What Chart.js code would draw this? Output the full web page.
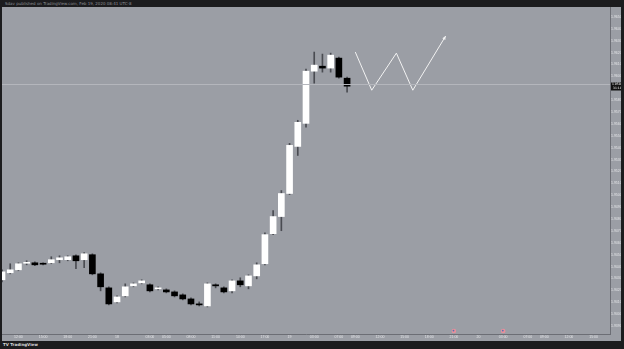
<!DOCTYPE html>
<html>
<head>
<meta charset="utf-8">
<script src="https://cdn.jsdelivr.net/npm/chart.js@4/dist/chart.umd.min.js"></script>
<style>
  html, body { margin: 0; padding: 0; background: #1c1c1e; width: 624px; height: 349px; overflow: hidden; font-family: "DejaVu Sans", sans-serif; }
  #head { position: absolute; left: 5px; top: 1px; font-size: 4px; color: #8d8f94; white-space: nowrap; }
  #foot { position: absolute; left: 3px; top: 342px; font-size: 4px; color: #d8d8d8; font-weight: bold; white-space: nowrap; }
  #wrap { position: absolute; left: 2px; top: 7px; width: 619px; height: 334px; background: #9b9ea5; }
</style>
</head>
<body>
<div id="head">Sdav published on TradingView.com, Feb 19, 2020 08:41 UTC-8</div>
<div id="wrap"><canvas id="c" width="619" height="334"></canvas></div>
<div id="foot">TV TradingView</div>
<script>
// hourly candles
const candleOpen  = [1.94289,1.94348,1.94373,1.94428,1.94432,1.94424,1.94432,1.94458,1.94458,1.94491,1.94458,1.94500,1.94339,1.94221,1.94103,1.94154,1.94238,1.94263,1.94247,1.94213,1.94204,1.94187,1.94162,1.94128,1.94086,1.94069,1.94247,1.94221,1.94196,1.94280,1.94238,1.94322,1.94424,1.94677,1.94821,1.95015,1.95411,1.95605,1.96044,1.96086,1.96070,1.96154,1.95985];
const candleHigh  = [1.94373,1.94424,1.94432,1.94449,1.94441,1.94432,1.94483,1.94491,1.94491,1.94500,1.94517,1.94508,1.94348,1.94230,1.94154,1.94255,1.94263,1.94289,1.94255,1.94230,1.94213,1.94196,1.94171,1.94137,1.94103,1.94263,1.94255,1.94230,1.94289,1.94306,1.94331,1.94432,1.94685,1.94871,1.95040,1.95437,1.95631,1.96061,1.96205,1.96188,1.96196,1.96162,1.95994];
const candleLow   = [1.94272,1.94339,1.94365,1.94415,1.94407,1.94415,1.94424,1.94432,1.94449,1.94382,1.94390,1.94331,1.94196,1.94078,1.94095,1.94145,1.94230,1.94255,1.94187,1.94204,1.94179,1.94145,1.94120,1.94078,1.94069,1.94061,1.94221,1.94179,1.94179,1.94230,1.94213,1.94297,1.94415,1.94669,1.94702,1.95006,1.95335,1.95572,1.95943,1.96036,1.96036,1.95985,1.95867];
const candleClose = [1.94356,1.94373,1.94424,1.94432,1.94415,1.94420,1.94458,1.94474,1.94483,1.94449,1.94508,1.94339,1.94230,1.94086,1.94145,1.94230,1.94255,1.94280,1.94196,1.94221,1.94187,1.94154,1.94128,1.94086,1.94078,1.94255,1.94238,1.94187,1.94280,1.94247,1.94322,1.94415,1.94669,1.94821,1.95015,1.95420,1.95614,1.96044,1.96095,1.96070,1.96179,1.95994,1.95918];

// projected zigzag drawing
const pathIndex = [43, 45, 48, 50, 54];
const pathPrice = [1.96205, 1.95884, 1.96196, 1.95884, 1.96340];

const lastPrice = 1.95939;
const eventIndex = [55, 61];

const slotCount = 75;
const timeTicks = {2:'12:00',5:'15:00',8:'18:00',11:'21:00',14:'18',18:'03:00',20:'05:00',23:'08:00',26:'11:00',29:'14:00',32:'17:00',35:'19',38:'03:00',41:'07:00',43:'09:00',46:'12:00',49:'15:00',52:'18:00',55:'21:00',58:'20',61:'03:00',64:'07:00',66:'09:00',69:'12:00',72:'15:00'};

const labels = Array.from({length: slotCount}, (_, i) => String(i));
const bodies = candleOpen.map((o, i) => [Math.min(o, candleClose[i]), Math.max(o, candleClose[i])]);
const wicks = candleLow.map((l, i) => [l, candleHigh[i]]);
const bodyColor = candleOpen.map((o, i) => candleClose[i] >= o ? '#ffffff' : '#000000');
const pathData = new Array(slotCount).fill(null);
pathIndex.forEach((x, i) => { pathData[x] = pathPrice[i]; });

const overlay = {
  id: 'overlay',
  afterDatasetsDraw(chart) {
    const { ctx, chartArea: a, scales: { x, y } } = chart;
    ctx.save();
    // last price line
    const py = Math.round(y.getPixelForValue(lastPrice)) + 0.5;
    ctx.strokeStyle = '#b4b6bc';
    ctx.lineWidth = 1;
    ctx.beginPath(); ctx.moveTo(a.left, py); ctx.lineTo(a.right, py); ctx.stroke();
    // arrowhead on zigzag
    const n = pathIndex.length;
    const x1 = x.getPixelForValue(pathIndex[n - 2]), y1 = y.getPixelForValue(pathPrice[n - 2]);
    const x2 = x.getPixelForValue(pathIndex[n - 1]), y2 = y.getPixelForValue(pathPrice[n - 1]);
    const ang = Math.atan2(y2 - y1, x2 - x1);
    ctx.fillStyle = '#f2f2f2';
    ctx.beginPath();
    ctx.moveTo(x2, y2);
    ctx.lineTo(x2 - 4 * Math.cos(ang - 0.45), y2 - 4 * Math.sin(ang - 0.45));
    ctx.lineTo(x2 - 4 * Math.cos(ang + 0.45), y2 - 4 * Math.sin(ang + 0.45));
    ctx.closePath(); ctx.fill();
    // calendar events
    eventIndex.forEach(i => {
      const ex = x.getPixelForValue(i);
      ctx.fillStyle = '#e8909c';
      ctx.beginPath(); ctx.arc(ex, a.bottom - 3, 2.3, 0, Math.PI * 2); ctx.fill();
      ctx.fillStyle = '#5a6fb0';
      ctx.beginPath(); ctx.arc(ex - 0.4, a.bottom - 3.4, 0.9, 0, Math.PI * 2); ctx.fill();
    });
    // price label on axis
    ctx.fillStyle = '#111111';
    ctx.fillRect(a.right + 1, py - 2, 10, 8);
    ctx.fillStyle = '#ffffff';
    ctx.font = '3px "DejaVu Sans"';
    ctx.textBaseline = 'middle';
    ctx.fillText(lastPrice.toFixed(4), a.right + 2, py);
    ctx.fillText('31:18', a.right + 3, py + 3.5);
    ctx.restore();
  }
};

new Chart(document.getElementById('c'), {
  type: 'bar',
  data: {
    labels,
    datasets: [
      {
        type: 'line', data: pathData, spanGaps: true,
        borderColor: '#f2f2f2', borderWidth: 1, pointRadius: 0, tension: 0,
      },
      {
        data: bodies, backgroundColor: bodyColor, borderWidth: 0,
        barThickness: 6, grouped: false, minBarLength: 1,
      },
      {
        data: wicks, backgroundColor: '#4a4c52', borderWidth: 0,
        barThickness: 1, grouped: false,
      },
    ],
  },
  options: {
    responsive: false, animation: false,
    layout: { padding: 0 },
    plugins: { legend: { display: false }, tooltip: { enabled: false } },
    scales: {
      x: {
        offset: false,
        grid: { display: false, drawTicks: false },
        border: { color: '#6c6e75' },
        afterFit: s => { s.height = 7; s.paddingLeft = 0; s.paddingRight = 0; },
        ticks: {
          autoSkip: false, maxRotation: 0, padding: 1,
          color: '#e4e5e8', font: { size: 3.5 },
          callback: (v, i) => timeTicks[i] || '',
        },
      },
      y: {
        position: 'right',
        min: 1.93833, max: 1.96584,
        grid: { display: false, drawTicks: false },
        border: { color: '#6c6e75' },
        afterFit: s => { s.width = 11; s.paddingTop = 0; s.paddingBottom = 0; },
        ticks: {
          stepSize: 0.001, includeBounds: false, padding: 1,
          color: '#e4e5e8', font: { size: 3.5 },
          callback: v => v.toFixed(4),
        },
      },
    },
  },
  plugins: [overlay],
});
</script>
</body>
</html>
